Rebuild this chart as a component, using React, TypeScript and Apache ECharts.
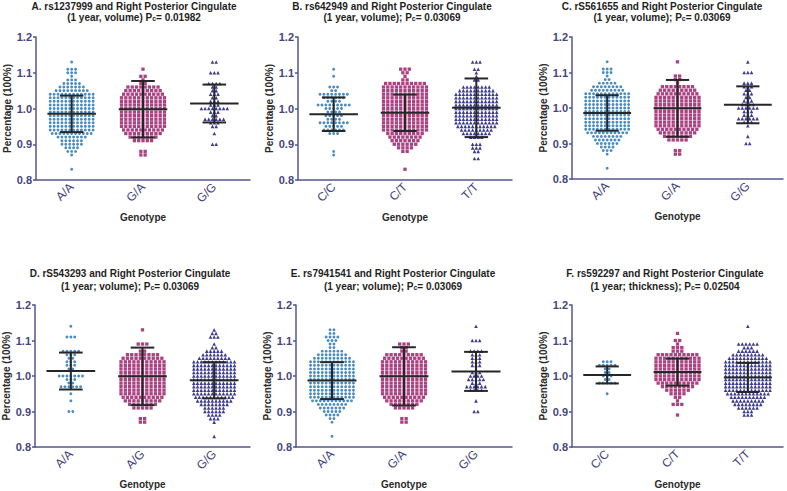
import React, { useEffect, useRef } from "react";
import * as echarts from "echarts";

type Row = [number, number]; // [value, number of subjects at that value]

const BLUE = "#4a8cc0";
const MAGENTA = "#aa4281";
const NAVY = "#3c3c8e";
const AXIS = "#55558a";
const LABEL = "#45457e";
const FONT = "Liberation Sans";

// ---------- Panel A ----------
const catsA = ["A/A", "G/A", "G/G"];
const A_AA: Row[] = [[1.13,1],[1.11,3],[1.10,3],[1.09,1],[1.08,3],[1.07,5],[1.06,7],[1.05,9],[1.04,12],[1.03,12],[1.02,12],[1.01,12],[1.00,12],[0.99,12],[0.98,12],[0.97,12],[0.96,12],[0.95,12],[0.94,12],[0.93,11],[0.92,8],[0.91,6],[0.90,6],[0.89,4],[0.88,3],[0.87,1],[0.83,1]];
const A_GA: Row[] = [[1.11,1],[1.09,2],[1.08,1],[1.07,2],[1.06,8],[1.05,9],[1.04,10],[1.03,11],[1.02,11],[1.01,11],[1.00,11],[0.99,11],[0.98,11],[0.97,11],[0.96,11],[0.95,11],[0.94,10],[0.93,9],[0.92,7],[0.91,5],[0.88,2],[0.87,2]];
const A_GG: Row[] = [[1.13,2],[1.10,3],[1.07,4],[1.06,2],[1.05,2],[1.04,3],[1.03,2],[1.02,3],[1.01,3],[1.00,8],[0.99,3],[0.98,2],[0.97,6],[0.96,3],[0.95,2],[0.93,1],[0.90,2]];
const meansA = [0.985, 0.998, 1.014];
const sdsA = [0.051, 0.079, 0.053];

// ---------- Panel B ----------
const catsB = ["C/C", "C/T", "T/T"];
const B_CC: Row[] = [[1.11,1],[1.09,1],[1.06,3],[1.05,2],[1.04,8],[1.03,6],[1.02,4],[1.01,9],[1.00,5],[0.99,4],[0.98,5],[0.97,4],[0.96,8],[0.95,5],[0.94,6],[0.93,3],[0.88,1],[0.87,1]];
const B_CT: Row[] = [[1.11,3],[1.10,2],[1.09,1],[1.08,2],[1.07,10],[1.06,11],[1.05,11],[1.04,11],[1.03,11],[1.02,11],[1.01,11],[1.00,11],[0.99,11],[0.98,11],[0.97,11],[0.96,11],[0.95,11],[0.94,11],[0.93,9],[0.92,8],[0.91,7],[0.90,6],[0.89,4],[0.88,2],[0.83,1]];
const B_TT: Row[] = [[1.13,3],[1.11,2],[1.10,1],[1.09,1],[1.08,2],[1.06,8],[1.05,10],[1.04,12],[1.03,12],[1.02,12],[1.01,12],[1.00,12],[0.99,12],[0.98,12],[0.97,12],[0.96,12],[0.95,11],[0.94,9],[0.93,8],[0.92,4],[0.90,3],[0.89,3],[0.88,2],[0.86,2]];
const meansB = [0.984, 0.988, 1.002];
const sdsB = [0.047, 0.051, 0.082];

// ---------- Panel C ----------
const catsC = ["A/A", "G/A", "G/G"];
const C_AA: Row[] = [[1.13,1],[1.11,3],[1.10,3],[1.09,1],[1.08,2],[1.07,5],[1.06,8],[1.05,9],[1.04,12],[1.03,12],[1.02,12],[1.01,12],[1.00,12],[0.99,12],[0.98,12],[0.97,12],[0.96,12],[0.95,12],[0.94,12],[0.93,11],[0.92,8],[0.91,7],[0.90,6],[0.89,4],[0.88,3],[0.87,1],[0.83,1]];
const C_GA: Row[] = [[1.13,1],[1.09,2],[1.08,2],[1.07,1],[1.06,8],[1.05,9],[1.04,10],[1.03,11],[1.02,11],[1.01,11],[1.00,11],[0.99,11],[0.98,11],[0.97,11],[0.96,11],[0.95,11],[0.94,10],[0.93,9],[0.92,7],[0.91,5],[0.88,2],[0.87,2]];
const C_GG: Row[] = [[1.13,1],[1.10,3],[1.07,3],[1.06,3],[1.05,2],[1.04,3],[1.03,2],[1.02,3],[1.01,4],[1.00,6],[0.99,3],[0.98,3],[0.97,6],[0.96,3],[0.95,1],[0.92,1],[0.90,2]];
const meansC = [0.986, 0.999, 1.009];
const sdsC = [0.050, 0.080, 0.052];

// ---------- Panel D ----------
const catsD = ["A/A", "A/G", "G/G"];
const D_AA: Row[] = [[1.14,1],[1.11,3],[1.07,5],[1.06,3],[1.05,2],[1.04,3],[1.03,3],[1.02,2],[1.00,7],[0.99,3],[0.98,2],[0.97,6],[0.95,1],[0.93,1],[0.90,2]];
const D_AG: Row[] = [[1.13,1],[1.09,3],[1.07,2],[1.06,8],[1.05,10],[1.04,11],[1.03,11],[1.02,11],[1.01,11],[1.00,11],[0.99,11],[0.98,11],[0.97,11],[0.96,11],[0.95,11],[0.94,10],[0.93,9],[0.92,7],[0.91,5],[0.88,2],[0.87,2]];
const D_GG: Row[] = [[1.13,1],[1.12,2],[1.11,3],[1.09,1],[1.08,2],[1.07,5],[1.06,7],[1.05,9],[1.04,12],[1.03,12],[1.02,12],[1.01,12],[1.00,12],[0.99,12],[0.98,12],[0.97,12],[0.96,12],[0.95,12],[0.94,11],[0.93,10],[0.92,8],[0.91,6],[0.90,6],[0.89,4],[0.88,3],[0.87,1],[0.83,1]];
const meansD = [1.014, 0.999, 0.988];
const sdsD = [0.052, 0.081, 0.051];

// ---------- Panel E ----------
const catsE = ["A/A", "G/A", "G/G"];
const E_AA: Row[] = [[1.13,2],[1.12,2],[1.11,4],[1.10,3],[1.09,2],[1.08,2],[1.07,6],[1.06,8],[1.05,10],[1.04,12],[1.03,12],[1.02,12],[1.01,12],[1.00,12],[0.99,12],[0.98,12],[0.97,12],[0.96,12],[0.95,12],[0.94,12],[0.93,11],[0.92,8],[0.91,7],[0.90,5],[0.89,4],[0.88,2],[0.87,1],[0.83,1]];
const E_GA: Row[] = [[1.09,3],[1.08,2],[1.07,2],[1.06,9],[1.05,10],[1.04,11],[1.03,11],[1.02,11],[1.01,11],[1.00,11],[0.99,11],[0.98,11],[0.97,11],[0.96,11],[0.95,11],[0.94,10],[0.93,9],[0.92,7],[0.91,5],[0.88,2],[0.87,2]];
const E_GG: Row[] = [[1.14,1],[1.10,3],[1.07,4],[1.06,3],[1.05,3],[1.04,3],[1.03,3],[1.01,3],[1.00,4],[0.99,5],[0.98,3],[0.97,6],[0.96,4],[0.93,1],[0.90,2]];
const meansE = [0.987, 0.999, 1.013];
const sdsE = [0.052, 0.082, 0.055];

// ---------- Panel F ----------
const catsF = ["C/C", "C/T", "T/T"];
const F_CC: Row[] = [[1.04,3],[1.03,5],[1.02,2],[1.01,2],[1.00,3],[0.99,2],[0.98,5],[0.95,1]];
const F_CT: Row[] = [[1.12,1],[1.10,2],[1.09,1],[1.08,3],[1.07,3],[1.06,10],[1.05,11],[1.04,11],[1.03,11],[1.02,11],[1.01,11],[1.00,11],[0.99,11],[0.98,10],[0.97,8],[0.96,6],[0.95,4],[0.94,2],[0.93,1],[0.92,3],[0.89,1]];
const F_TT: Row[] = [[1.14,1],[1.09,6],[1.08,3],[1.07,6],[1.06,9],[1.05,11],[1.04,13],[1.03,13],[1.02,13],[1.01,13],[1.00,13],[0.99,13],[0.98,13],[0.97,13],[0.96,13],[0.95,12],[0.94,10],[0.93,9],[0.92,8],[0.91,6],[0.90,3],[0.89,3]];
const meansF = [1.003, 1.011, 0.996];
const sdsF = [0.024, 0.038, 0.041];

// ---------- Titles ----------
const titleLine1 = [
  "A. rs1237999 and Right Posterior Cingulate",
  "B. rs642949 and Right Posterior Cingulate",
  "C. rS561655 and Right Posterior Cingulate",
  "D. rS543293 and Right Posterior Cingulate",
  "E. rs7941541 and Right Posterior Cingulate",
  "F. rs592297 and Right Posterior Cingulate",
];
const titleLine2 = [
  "(1 year, volume) P{c|c}= 0.01982",
  "(1 year, volume); P{c|c}= 0.03069",
  "(1 year, volume); P{c|c}= 0.03069",
  "(1 year; volume); P{c|c}= 0.03069",
  "(1 year; volume); P{c|c}= 0.03069",
  "(1 year; thickness); P{c|c}= 0.02504",
];

const panelCats = [catsA, catsB, catsC, catsD, catsE, catsF];
const panelGroups = [
  [A_AA, A_GA, A_GG],
  [B_CC, B_CT, B_TT],
  [C_AA, C_GA, C_GG],
  [D_AA, D_AG, D_GG],
  [E_AA, E_GA, E_GG],
  [F_CC, F_CT, F_TT],
];
const panelMeans = [meansA, meansB, meansC, meansD, meansE, meansF];
const panelSds = [sdsA, sdsB, sdsC, sdsD, sdsE, sdsF];

// layout (pixels)
const LAYOUT = [
  { left: 36, top: 37, width: 214, height: 143, tx: 134, t1: 6, t2: 17 },
  { left: 298, top: 37, width: 214, height: 143, tx: 392, t1: 6, t2: 17 },
  { left: 572, top: 37, width: 211, height: 142, tx: 662, t1: 6, t2: 17 },
  { left: 35, top: 305, width: 215, height: 142, tx: 130, t1: 273, t2: 286 },
  { left: 296, top: 305, width: 216, height: 142, tx: 393, t1: 273, t2: 286 },
  { left: 572, top: 305, width: 211, height: 142, tx: 665, t1: 273, t2: 286 },
];

const GROUP_STYLE = [
  { color: BLUE, symbol: "circle", size: 2.9, gap: 3.9 },
  { color: MAGENTA, symbol: "rect", size: 3.3, gap: 4.3 },
  { color: NAVY, symbol: "triangle", size: 3.6, gap: 3.7 },
];

function swarm(rows: Row[], gi: number, gap: number) {
  const out: any[] = [];
  rows.forEach(([v, n]) => {
    for (let k = 0; k < n; k++) {
      out.push({ value: [gi, v], symbolOffset: [(k - (n - 1) / 2) * gap, 0] });
    }
  });
  return out;
}

function errorBars(params: any, api: any) {
  const cat = api.value(0);
  const pm = api.coord([cat, api.value(1)]);
  const pl = api.coord([cat, api.value(2)]);
  const ph = api.coord([cat, api.value(3)]);
  const band = api.size([1, 0])[0];
  const mw = band * 0.34;
  const cw = band * 0.165;
  const style = { stroke: "#262626", lineWidth: 2 };
  return {
    type: "group",
    children: [
      { type: "line", shape: { x1: pm[0] - mw, y1: pm[1], x2: pm[0] + mw, y2: pm[1] }, style },
      { type: "line", shape: { x1: pl[0], y1: pl[1], x2: ph[0], y2: ph[1] }, style },
      { type: "line", shape: { x1: pl[0] - cw, y1: pl[1], x2: pl[0] + cw, y2: pl[1] }, style },
      { type: "line", shape: { x1: ph[0] - cw, y1: ph[1], x2: ph[0] + cw, y2: ph[1] }, style },
    ],
  };
}

export default function App() {
  const ref = useRef<HTMLDivElement>(null);
  useEffect(() => {
    if (!ref.current) return;
    const chart = echarts.init(ref.current, undefined, { renderer: "svg" });

    const grid = LAYOUT.map((l) => ({ left: l.left, top: l.top, width: l.width, height: l.height }));
    const xAxis = panelCats.map((cats, i) => ({
      type: "category",
      gridIndex: i,
      data: cats,
      boundaryGap: true,
      axisLine: { lineStyle: { color: AXIS, width: 1.5 } },
      axisTick: { alignWithLabel: true, length: 4, lineStyle: { color: AXIS, width: 1.5 } },
      axisLabel: { rotate: 45, fontSize: 12, color: LABEL, fontFamily: FONT, margin: 5 },
      name: "Genotype",
      nameLocation: "middle",
      nameGap: 32,
      nameTextStyle: { fontSize: 10, fontWeight: "bold", color: "#2a2a2a", fontFamily: FONT },
    }));
    const yAxis = panelCats.map((_, i) => ({
      type: "value",
      gridIndex: i,
      min: 0.8,
      max: 1.2,
      interval: 0.1,
      axisLine: { show: true, lineStyle: { color: AXIS, width: 1.5 } },
      axisTick: { show: true, length: 3, lineStyle: { color: AXIS, width: 1.5 } },
      splitLine: { show: false },
      axisLabel: {
        fontSize: 11,
        fontWeight: "bold",
        color: LABEL,
        fontFamily: FONT,
        margin: 4,
        formatter: (v: number) => v.toFixed(1),
      },
      name: "Percentage (100%)",
      nameLocation: "middle",
      nameGap: 24,
      nameTextStyle: { fontSize: 10, fontWeight: "bold", color: "#2a2a2a", fontFamily: FONT },
    }));

    const series: any[] = [];
    panelGroups.forEach((groups, pi) => {
      groups.forEach((rows, gi) => {
        const st = GROUP_STYLE[gi];
        series.push({
          type: "scatter",
          xAxisIndex: pi,
          yAxisIndex: pi,
          symbol: st.symbol,
          symbolSize: st.size,
          itemStyle: { color: st.color, opacity: 1 },
          silent: true,
          z: 2,
          data: swarm(rows, gi, st.gap),
        });
      });
      const means = panelMeans[pi];
      const sds = panelSds[pi];
      series.push({
        type: "custom",
        xAxisIndex: pi,
        yAxisIndex: pi,
        silent: true,
        z: 5,
        renderItem: errorBars,
        encode: { x: 0, y: [1, 2, 3] },
        data: means.map((m, gi) => [gi, m, m - sds[gi], m + sds[gi]]),
      });
    });

    const graphic: any[] = [];
    LAYOUT.forEach((l, i) => {
      graphic.push({
        type: "text",
        x: l.tx,
        y: l.t1,
        style: {
          text: titleLine1[i],
          fontSize: 10,
          fontWeight: "bold",
          fontFamily: FONT,
          fill: "#1e1e1e",
          align: "center",
          verticalAlign: "middle",
        },
      });
      graphic.push({
        type: "text",
        x: l.tx,
        y: l.t2,
        style: {
          text: titleLine2[i],
          fontSize: 10,
          fontWeight: "bold",
          fontFamily: FONT,
          fill: "#1e1e1e",
          align: "center",
          verticalAlign: "middle",
          rich: {
            c: { fontSize: 7, fontWeight: "bold", fontFamily: FONT, fill: "#1e1e1e", verticalAlign: "bottom" },
          },
        },
      });
    });

    chart.setOption({
      animation: false,
      backgroundColor: "#ffffff",
      grid,
      xAxis,
      yAxis,
      series,
      graphic,
    });
    return () => chart.dispose();
  }, []);

  return (
    <div
      ref={ref}
      style={{ position: "fixed", left: 0, top: 0, width: 787, height: 491, background: "#fff" }}
    />
  );
}
